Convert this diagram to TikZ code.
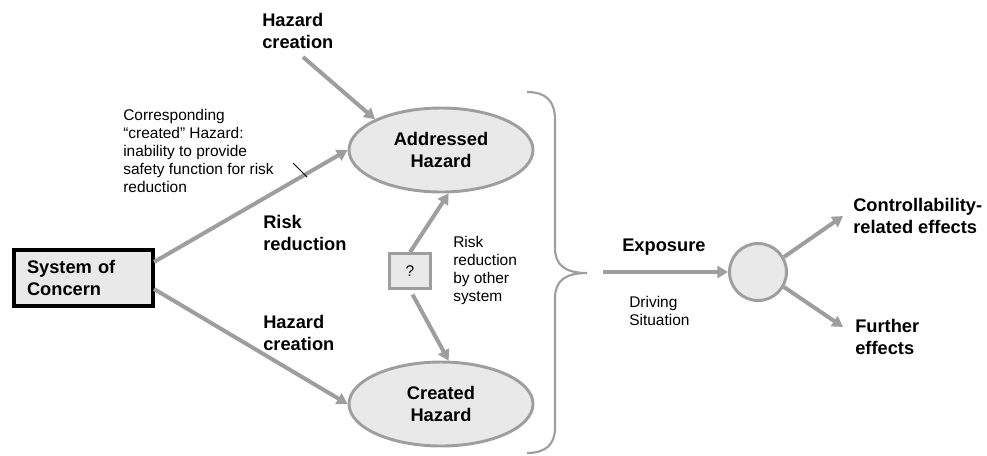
\documentclass[tikz,border=0pt]{standalone}
\usepackage{fontspec}
\setmainfont{Liberation Sans}
\usetikzlibrary{arrows.meta,shapes.geometric}
\definecolor{linegray}{RGB}{158,158,158}
\definecolor{fillgray}{RGB}{233,233,233}

\begin{document}
\begin{tikzpicture}[x=0.75pt,y=-0.75pt,
  bigtext/.style={font=\fontsize{13.7pt}{16.5pt}\selectfont\bfseries,
    align=left, inner sep=0pt, anchor=north west},
  smalltext/.style={font=\fontsize{11.6pt}{13.5pt}\selectfont,
    align=left, inner sep=0pt, anchor=north west},
  hazard/.style={ellipse, draw=linegray, fill=fillgray, line width=2.2pt,
    minimum width=138pt, minimum height=63pt, inner sep=0pt,
    font=\fontsize{13.7pt}{16.5pt}\selectfont\bfseries, align=center},
  flow/.style={draw=linegray, line width=3pt,
    -{Triangle[length=8pt,width=9pt]}},
]
\useasboundingbox (0,0) rectangle (987,455);

% system box
\node[draw=black, line width=3pt, fill=fillgray, minimum height=42pt,
  text width=84.75pt, inner xsep=9.75pt, inner ysep=0pt, align=left,
  font=\fontsize{13.7pt}{16.5pt}\selectfont\bfseries]
  (soc) at (83.5,278) {System of\\Concern};

% hazards
\node[hazard] (addr) at (441,150) {Addressed\\Hazard};
\node[hazard] (crea) at (441,404) {Created\\Hazard};

% unknown mitigating system
\node[draw=linegray, fill=fillgray, line width=2.2pt, minimum width=31pt,
  minimum height=26pt, inner sep=0pt,
  font=\fontsize{11.6pt}{13.5pt}\selectfont] (qbox) at (410,271) {?};

% resulting event
\node[circle, draw=linegray, fill=fillgray, line width=2.2pt,
  minimum size=42.75pt, inner sep=0pt] (res) at (758,272) {};

% labels
\node[bigtext] (hcA) at (262,13) {Hazard\\creation};
\node[smalltext] (note) at (123,109)
  {Corresponding\\“created” Hazard:\\inability to provide\\safety function for risk\\reduction};
\node[bigtext] (rr) at (263,215) {Risk\\reduction};
\node[bigtext] (hcB) at (263,315) {Hazard\\creation};
\node[smalltext] (rro) at (453,236) {Risk\\reduction\\by other\\system};
\node[bigtext] (expo) at (622,239) {Exposure};
\node[smalltext] (drive) at (629,296) {Driving\\Situation};
\node[bigtext] (ctrl) at (853,198) {Controllability-\\related effects};
\node[bigtext] (further) at (855,319) {Further\\effects};

% connector end points
\coordinate (hcstart) at (303,57);
\coordinate (rrstart) at (154,262);
\coordinate (hcBstart) at (154,289);
\coordinate (expstart) at (603,272);
\coordinate (ctrlend) at (843,216);
\coordinate (furtherend) at (843,327);
\coordinate (tickA) at (293,163);
\coordinate (tickB) at (307,177);

% connectors
\draw[flow] (hcstart) -- (addr.155);
\draw[flow] (rrstart) -- (addr.west);
\draw[flow] (hcBstart) -- (crea.west);
\draw[flow] (qbox.north) -- (addr.-80);
\draw[flow, shorten <=4pt] (qbox.south) -- (crea.80);
\draw[flow] (expstart) -- (res.west);
\draw[flow] (res.30) -- (ctrlend);
\draw[flow] (res.-30) -- (furtherend);

% leader from the note to the risk reduction path
\draw[black, line width=0.6pt] (tickA) -- (tickB);

% brace grouping both hazards
\draw[linegray, line width=1.6pt]
  (527,92) .. controls (545,92) and (555,100) .. (555,120) -- (555,248)
  .. controls (555,265) and (565,273) .. (587,273)
  .. controls (565,273) and (555,281) .. (555,298) -- (555,428)
  .. controls (555,445) and (545,453) .. (527,453);
\end{tikzpicture}
\end{document}
